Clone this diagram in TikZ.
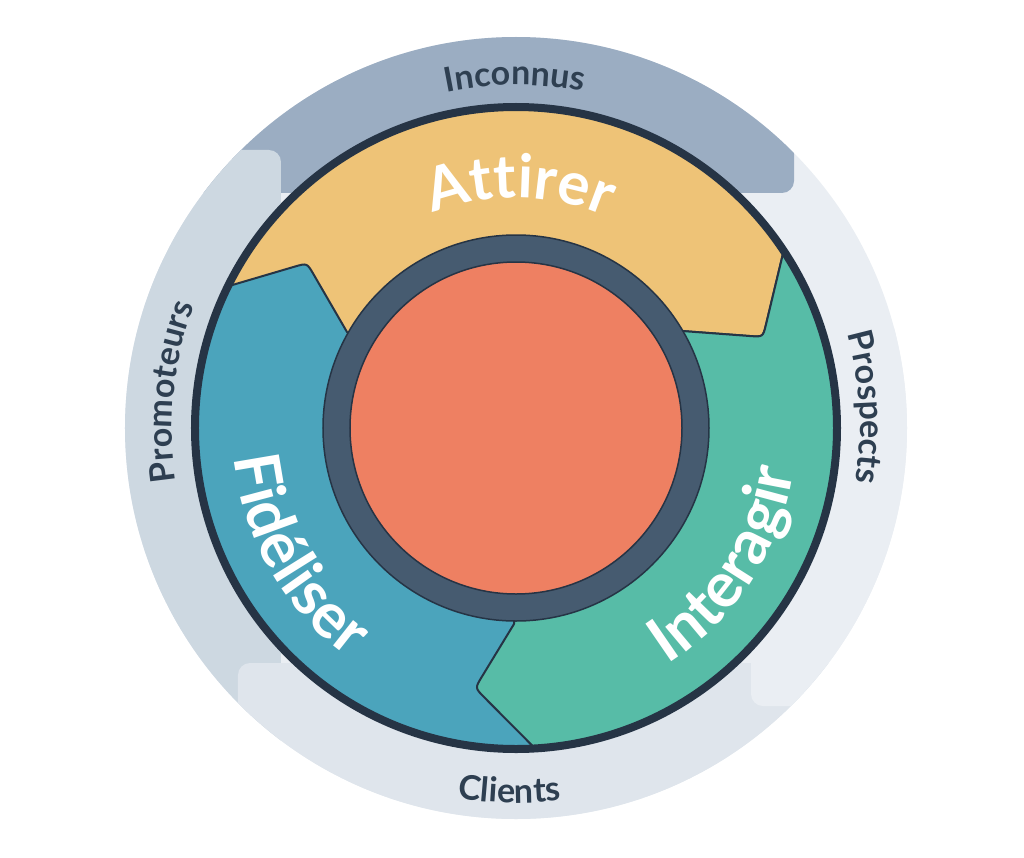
\documentclass[tikz,border=0pt]{standalone}
\usepackage{fontspec}
\setmainfont{Lato}
\usetikzlibrary{decorations.text,calc}
\definecolor{inc}{HTML}{9BADC2}
\definecolor{pro}{HTML}{CDD8E1}
\definecolor{cli}{HTML}{DFE5EC}
\definecolor{prs}{HTML}{EAEEF3}
\definecolor{ink}{HTML}{2E3F51}
\definecolor{rim}{HTML}{263445}
\definecolor{slate}{HTML}{465B70}
\definecolor{core}{HTML}{EE8062}
\definecolor{attc}{HTML}{EEC377}
\definecolor{intc}{HTML}{57BCA7}
\definecolor{fidc}{HTML}{4BA4BC}
\newcommand\segfont{\bfseries\fontsize{60}{60}\selectfont}
\newcommand\segfontb{\bfseries\fontsize{63}{63}\selectfont}
\newcommand\ringfont{\bfseries\fontsize{34}{34}\selectfont}
\begin{document}
\begin{tikzpicture}[x=1pt,y=1pt,
  band/.style={rounded corners=12pt},
  seglabel/.style={decorate, decoration={text along path, text={|\segfont|#1}, text align=center, text color=white}},
  seglabelb/.style={decorate, decoration={text along path, text={|\segfontb|#1}, text align=center, text color=white}},
  ringlabel/.style={decorate, decoration={text along path, text={|\ringfont|#1}, text align=center, text color=ink}},
  segment/.style={draw=rim, line width=2pt, line join=round}]
\useasboundingbox (-516,-429) rectangle (508,428);
% outer ring bands
\begin{scope}
  \clip (0,0) circle[radius=391];
  \fill[prs] (-400,-400) rectangle (400,400);
  \fill[inc, band] (-500,235) rectangle (278,500);
  \fill[pro, band] (-500,-500) rectangle (-235,278);
  \fill[cli, band] (-278,-500) rectangle (500,-235);
  \fill[prs, band] (235,-278) rectangle (500,100);
\end{scope}
% segments
\coordinate (fo) at (153.8:321); \coordinate (ft) at (-209,165); \coordinate (fi) at (-169,96);
\coordinate (ao) at (33.5:321);  \coordinate (at) at (247,91);   \coordinate (ai) at (166,97);
\coordinate (io) at (-86.6:321); \coordinate (it) at (-41,-260); \coordinate (ii) at (-2,-196);
\fill[fidc] (0,0) circle[radius=321];
\filldraw[attc, segment] (fo) arc[start angle=153.8, end angle=33.5, radius=321]
  -- ($(at)!13pt!(ao)$) .. controls (at) .. ($(at)!13pt!(ai)$) -- (ai) -- (0,0) -- (fi)
  -- ($(ft)!13pt!(fi)$) .. controls (ft) .. ($(ft)!13pt!(fo)$) -- cycle;
\filldraw[intc, segment] (ao) -- ($(at)!13pt!(ao)$) .. controls (at) .. ($(at)!13pt!(ai)$)
  -- (ai) -- (0,0) -- (ii) -- ($(it)!13pt!(ii)$) .. controls (it) .. ($(it)!13pt!(io)$)
  -- (io) arc[start angle=-86.6, end angle=33.5, radius=321] -- cycle;
\draw[rim, line width=8pt] (0,0) circle[radius=321];
% hub
\filldraw[fill=slate, draw=rim, line width=1.5pt] (0,0) circle[radius=193];
\filldraw[fill=core, draw=rim, line width=1.5pt] (0,0) circle[radius=166];
% segment labels
\path[seglabel=Attirer] (150:230) arc[start angle=150, end angle=28, radius=230];
\path[seglabelb=Fidéliser] (150:284) arc[start angle=150, end angle=270, radius=284];
\path[seglabelb=Interagir] (-93:281) arc[start angle=-93, end angle=27, radius=281];
% ring labels
\path[ringlabel=Inconnus] (130:343) arc[start angle=130, end angle=50.4, radius=343];
\path[ringlabel=Clients] (-131:375) arc[start angle=-131, end angle=-51, radius=375];
\path[ringlabel=Promoteurs] (214:344) arc[start angle=214, end angle=134, radius=344];
\path[ringlabel=Prospects] (43.4:344) arc[start angle=43.4, end angle=-36.6, radius=344];
\end{tikzpicture}
\end{document}
